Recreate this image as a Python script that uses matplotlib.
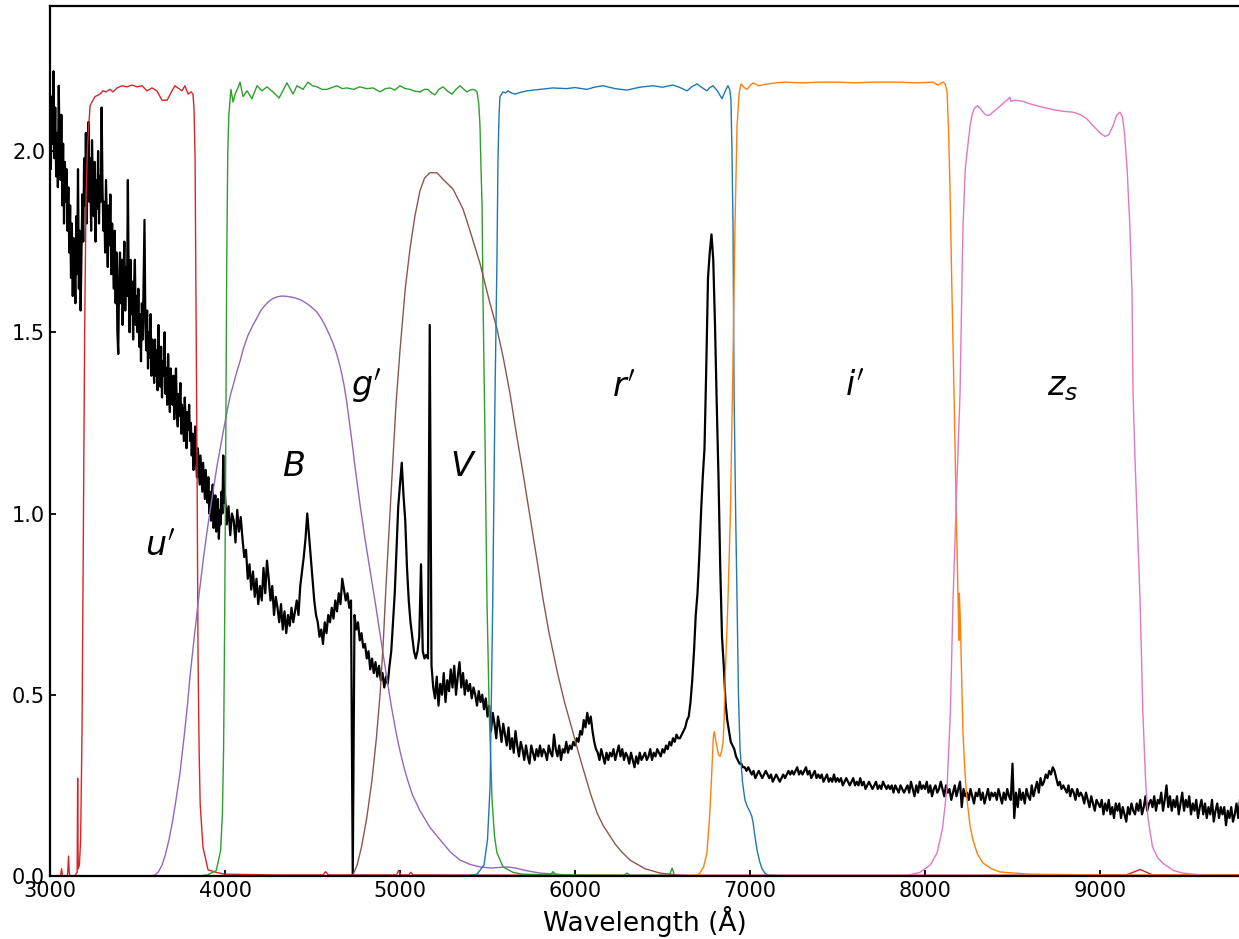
import numpy as np
import matplotlib
matplotlib.use("Agg")
import matplotlib.pyplot as plt

# ---- spectrum ----
# blue part sampled every 5 A, the rest every 10 A
spec_wl_blue = np.arange(3000, 4000, 5)
spec_fl_blue = [
    2.08, 1.95, 2.15, 2.02, 2.22, 1.98, 2.12, 1.93, 2.05, 1.90, 2.18, 2.00, 1.92, 2.10, 1.85, 2.02, 1.80, 1.97, 1.86, 1.95,
    1.78, 1.90, 1.72, 1.85, 1.65, 1.80, 1.60, 1.76, 1.70, 1.58, 1.82, 1.66, 1.95, 1.62, 1.78, 1.56, 1.72, 1.88, 1.75, 1.98,
    1.85, 2.05, 1.80, 1.96, 2.08, 1.86, 1.98, 1.78, 2.03, 1.90, 1.82, 1.97, 1.75, 1.92, 1.84, 2.00, 1.80, 1.93, 1.86, 2.12,
    1.90, 1.78, 1.86, 1.72, 1.92, 1.80, 1.68, 1.85, 1.74, 1.88, 1.66, 1.80, 1.70, 1.62, 1.78, 1.58, 1.72, 1.50, 1.44, 1.65,
    1.72, 1.58, 1.70, 1.52, 1.66, 1.75, 1.56, 1.68, 1.60, 1.92, 1.62, 1.50, 1.70, 1.55, 1.64, 1.48, 1.62, 1.70, 1.52, 1.60,
    1.50, 1.62, 1.46, 1.55, 1.42, 1.58, 1.48, 1.65, 1.81, 1.52, 1.45, 1.56, 1.40, 1.50, 1.43, 1.55, 1.38, 1.48, 1.44, 1.36,
    1.48, 1.38, 1.45, 1.34, 1.52, 1.40, 1.35, 1.46, 1.32, 1.42, 1.38, 1.50, 1.33, 1.40, 1.30, 1.44, 1.35, 1.28, 1.40, 1.34,
    1.30, 1.38, 1.26, 1.35, 1.40, 1.28, 1.24, 1.33, 1.27, 1.36, 1.22, 1.30, 1.25, 1.20, 1.32, 1.26, 1.18, 1.28, 1.23, 1.30,
    1.20, 1.25, 1.16, 1.22, 1.12, 1.19, 1.24, 1.14, 1.10, 1.18, 1.13, 1.08, 1.16, 1.11, 1.06, 1.14, 1.09, 1.04, 1.12, 1.07,
    1.03, 1.10, 1.00, 1.06, 0.98, 1.04, 1.08, 0.96, 1.02, 1.05, 0.95, 1.00, 1.04, 0.93, 1.01, 0.97, 1.06, 1.00, 1.16, 1.03,
]

spec_wl_red = np.arange(4000, 9810, 10)
spec_fl_mid = [
    1.05, 0.97, 1.02, 0.94, 1.00, 0.98, 0.92, 1.01, 0.95, 0.99,
    0.93, 0.88, 0.90, 0.82, 0.86, 0.79, 0.84, 0.77, 0.82, 0.75,
    0.80, 0.76, 0.85, 0.78, 0.87, 0.82, 0.76, 0.80, 0.72, 0.77,
    0.74, 0.70, 0.75, 0.68, 0.73, 0.67, 0.72, 0.69, 0.74, 0.70,
    0.73, 0.76, 0.72, 0.80, 0.84, 0.88, 0.93, 1.00, 0.94, 0.88,
    0.82, 0.76, 0.72, 0.70, 0.66, 0.68, 0.64, 0.70, 0.67, 0.72,
    0.70, 0.74, 0.71, 0.76, 0.73, 0.78, 0.75, 0.82, 0.79, 0.76,
    0.78, 0.74, 0.76, 0.00, 0.72, 0.68, 0.70, 0.65, 0.67, 0.63,
    0.64, 0.60, 0.62, 0.57, 0.60, 0.56, 0.59, 0.55, 0.58, 0.54,
    0.56, 0.52, 0.55, 0.53, 0.58, 0.62, 0.70, 0.78, 0.90, 1.02,
    1.08, 1.14, 1.05, 0.98, 0.85, 0.76, 0.70, 0.66, 0.62, 0.60,
    0.62, 0.66, 0.86, 0.62, 0.60, 0.61, 0.60, 1.52, 0.58, 0.52,
    0.49, 0.55, 0.47, 0.53, 0.50, 0.56, 0.48, 0.54, 0.51, 0.57,
    0.52, 0.58, 0.50, 0.55, 0.59, 0.52, 0.56, 0.50, 0.54, 0.51,
    0.53, 0.49, 0.52, 0.50, 0.47, 0.51, 0.48, 0.50, 0.46, 0.49,
    0.44, 0.47, 0.40, 0.45, 0.42, 0.38, 0.44, 0.41, 0.37, 0.42,
    0.39, 0.36, 0.41, 0.35, 0.38, 0.34, 0.40, 0.36, 0.33, 0.37,
    0.35, 0.32, 0.36, 0.33, 0.31, 0.36, 0.34, 0.32, 0.35, 0.33,
    0.36, 0.33, 0.35, 0.34, 0.32, 0.36, 0.34, 0.33, 0.39, 0.35,
    0.33, 0.36, 0.32, 0.35, 0.34, 0.37, 0.34, 0.36, 0.35, 0.37,
    0.36, 0.38, 0.37, 0.40, 0.39, 0.43, 0.41, 0.45, 0.42, 0.44,
    0.40, 0.37, 0.35, 0.34, 0.32, 0.35, 0.33, 0.31, 0.34, 0.32,
    0.34, 0.33, 0.35, 0.32, 0.34, 0.36, 0.33, 0.35, 0.32, 0.34,
    0.33, 0.31, 0.34, 0.32, 0.30, 0.33, 0.31, 0.34, 0.32, 0.33,
    0.34, 0.32, 0.33, 0.35, 0.32, 0.34, 0.33, 0.35, 0.34, 0.33,
    0.35, 0.34, 0.36, 0.35, 0.37, 0.36, 0.38, 0.37, 0.39, 0.38,
    0.38, 0.39, 0.40, 0.41, 0.43, 0.44, 0.48, 0.54, 0.62, 0.72,
]
# H-alpha line region 6700-6990
spec_fl_line = [
    0.78, 0.88, 1.00, 1.10, 1.18, 1.40, 1.65, 1.72, 1.77, 1.70,
    1.52, 1.30, 1.10, 0.85, 0.66, 0.58, 0.48, 0.43, 0.40, 0.37,
    0.36, 0.35, 0.33, 0.32, 0.31, 0.31, 0.30, 0.30, 0.29, 0.30,
]
spec_fl_tail = [
    0.29, 0.28, 0.29, 0.27, 0.28, 0.29, 0.28, 0.27, 0.28, 0.29,
    0.28, 0.27, 0.28, 0.26, 0.27, 0.28, 0.27, 0.26, 0.27, 0.28,
    0.27, 0.28, 0.29, 0.28, 0.29, 0.28, 0.29, 0.30, 0.28, 0.29,
    0.28, 0.29, 0.30, 0.28, 0.29, 0.27, 0.28, 0.29, 0.27, 0.28,
    0.27, 0.28, 0.26, 0.27, 0.28, 0.26, 0.27, 0.26, 0.28, 0.26,
    0.27, 0.26, 0.27, 0.25, 0.26, 0.27, 0.26, 0.25, 0.26, 0.27,
    0.25, 0.26, 0.25, 0.27, 0.25, 0.26, 0.24, 0.25, 0.26, 0.25,
    0.24, 0.25, 0.26, 0.24, 0.25, 0.24, 0.26, 0.25, 0.24, 0.25,
    0.24, 0.25, 0.23, 0.25, 0.24, 0.23, 0.25, 0.24, 0.23, 0.24,
    0.25, 0.23, 0.26, 0.24, 0.22, 0.25, 0.23, 0.26, 0.24, 0.25,
    0.24, 0.26, 0.23, 0.25, 0.22, 0.24, 0.25, 0.23, 0.24, 0.26,
    0.24, 0.22, 0.25, 0.23, 0.24, 0.21, 0.23, 0.25, 0.22, 0.24,
    0.26, 0.19, 0.24, 0.22, 0.23, 0.21, 0.24, 0.22, 0.20, 0.23,
    0.22, 0.24, 0.21, 0.23, 0.20, 0.22, 0.24, 0.21, 0.23, 0.22,
    0.23, 0.21, 0.24, 0.22, 0.20, 0.23, 0.21, 0.24, 0.22, 0.21,
    0.31, 0.16, 0.23, 0.19, 0.24, 0.21, 0.23, 0.20, 0.24, 0.22,
    0.21, 0.25, 0.22, 0.24, 0.26, 0.23, 0.27, 0.25, 0.26, 0.28,
    0.27, 0.29, 0.28, 0.30, 0.29, 0.27, 0.25, 0.26, 0.24, 0.25,
    0.24, 0.23, 0.25, 0.22, 0.24, 0.23, 0.21, 0.24, 0.22, 0.23,
    0.22, 0.20, 0.23, 0.21, 0.19, 0.22, 0.20, 0.18, 0.21, 0.20,
    0.19, 0.21, 0.17, 0.20, 0.18, 0.21, 0.17, 0.19, 0.16, 0.20,
    0.18, 0.20, 0.16, 0.19, 0.17, 0.15, 0.19, 0.17, 0.20, 0.18,
    0.17, 0.20, 0.18, 0.21, 0.17, 0.19, 0.22, 0.18, 0.20, 0.21,
    0.19, 0.22, 0.18, 0.21, 0.20, 0.23, 0.18, 0.21, 0.25, 0.19,
    0.22, 0.18, 0.21, 0.19, 0.22, 0.17, 0.20, 0.23, 0.18, 0.21,
    0.19, 0.22, 0.17, 0.20, 0.18, 0.21, 0.16, 0.19, 0.21, 0.17,
    0.20, 0.16, 0.19, 0.17, 0.21, 0.15, 0.18, 0.20, 0.16, 0.19,
    0.17, 0.19, 0.14, 0.18, 0.16, 0.19, 0.15, 0.17, 0.20, 0.16,
    0.21,
]

# ---- filter curves (wavelength, scaled throughput) ----
u_filt = [(3000, 0.0), (3060, 0.0), (3066, 0.02), (3072, 0.0), (3100, 0.0), (3106, 0.055),
          (3110, 0.01), (3114, 0.0), (3140, 0.0), (3155, 0.01), (3158, 0.27), (3161, 0.02),
          (3168, 0.03), (3175, 0.1), (3183, 0.4), (3190, 0.9), (3198, 1.5), (3206, 1.87),
          (3215, 2.02), (3229, 2.125), (3257, 2.15), (3286, 2.157), (3303, 2.166), (3320, 2.163),
          (3343, 2.17), (3360, 2.163), (3383, 2.174), (3411, 2.18), (3440, 2.177), (3469, 2.182),
          (3497, 2.177), (3526, 2.18), (3554, 2.166), (3583, 2.174), (3611, 2.166), (3640, 2.14),
          (3669, 2.14), (3697, 2.166), (3714, 2.18), (3731, 2.174), (3754, 2.166), (3771, 2.18),
          (3789, 2.157), (3806, 2.163), (3817, 2.157), (3823, 2.116), (3829, 1.98), (3840, 1.15),
          (3846, 0.6), (3852, 0.35), (3858, 0.2), (3874, 0.08), (3903, 0.017), (3950, 0.01),
          (4000, 0.005), (4300, 0.003), (4560, 0.003), (4575, 0.012), (4590, 0.003), (4980, 0.003),
          (4992, 0.015), (5004, 0.003), (5050, 0.003), (5062, 0.01), (5074, 0.003), (6000, 0.002),
          (8200, 0.002), (9150, 0.003), (9230, 0.018), (9300, 0.003), (9800, 0.003)]

g_filt = [(3850, 0.0), (3900, 0.003), (3950, 0.015), (3975, 0.07), (3985, 0.17), (3992, 0.35),
          (3998, 0.7), (4004, 1.15), (4010, 1.7), (4016, 2.0), (4022, 2.1), (4034, 2.17),
          (4046, 2.135), (4060, 2.16), (4075, 2.175), (4086, 2.19), (4103, 2.15), (4126, 2.166),
          (4154, 2.144), (4183, 2.18), (4211, 2.166), (4240, 2.177), (4274, 2.163), (4309, 2.146),
          (4354, 2.188), (4389, 2.157), (4411, 2.18), (4446, 2.17), (4474, 2.19), (4500, 2.18),
          (4526, 2.177), (4555, 2.17), (4583, 2.17), (4610, 2.175), (4640, 2.18), (4670, 2.172),
          (4697, 2.174), (4735, 2.17), (4771, 2.177), (4810, 2.172), (4846, 2.174), (4886, 2.163),
          (4915, 2.172), (4943, 2.174), (4970, 2.168), (5000, 2.18), (5030, 2.172), (5057, 2.17),
          (5085, 2.165), (5114, 2.163), (5140, 2.17), (5160, 2.17), (5180, 2.16), (5200, 2.155),
          (5222, 2.17), (5246, 2.177), (5272, 2.165), (5297, 2.157), (5320, 2.17), (5343, 2.18),
          (5365, 2.17), (5383, 2.163), (5400, 2.168), (5417, 2.17), (5430, 2.168), (5440, 2.163),
          (5450, 2.13), (5457, 2.07), (5463, 1.95), (5469, 1.85), (5474, 1.61), (5480, 1.4),
          (5486, 1.2), (5492, 0.95), (5497, 0.76), (5510, 0.45), (5526, 0.21), (5540, 0.11),
          (5554, 0.064), (5589, 0.025), (5646, 0.01), (5700, 0.005), (5860, 0.003), (5874, 0.012),
          (5890, 0.003), (6280, 0.002), (6297, 0.008), (6315, 0.002), (6540, 0.002), (6555, 0.022),
          (6568, 0.002), (6700, 0.0)]

r_filt = [(5380, 0.0), (5440, 0.005), (5480, 0.03), (5500, 0.1), (5515, 0.25), (5530, 0.76),
          (5543, 1.33), (5554, 1.7), (5560, 1.98), (5566, 2.1), (5571, 2.15), (5589, 2.163),
          (5603, 2.16), (5617, 2.166), (5637, 2.16), (5657, 2.157), (5690, 2.162), (5726, 2.166),
          (5800, 2.17), (5874, 2.174), (5950, 2.172), (6000, 2.175), (6069, 2.17), (6110, 2.176),
          (6160, 2.18), (6230, 2.172), (6297, 2.168), (6370, 2.176), (6446, 2.18), (6500, 2.176),
          (6560, 2.182), (6600, 2.175), (6640, 2.166), (6670, 2.178), (6697, 2.185), (6725, 2.175),
          (6754, 2.166), (6770, 2.175), (6789, 2.18), (6815, 2.165), (6840, 2.144), (6858, 2.165),
          (6874, 2.18), (6884, 2.17), (6891, 2.144), (6897, 2.0), (6903, 1.79), (6909, 1.33),
          (6918, 1.0), (6926, 0.76), (6934, 0.5), (6943, 0.35), (6957, 0.26), (6971, 0.21),
          (6986, 0.19), (7000, 0.177), (7010, 0.165), (7017, 0.15), (7028, 0.11), (7040, 0.072),
          (7055, 0.04), (7069, 0.02), (7085, 0.008), (7103, 0.002), (7200, 0.0)]

i_filt = [(6650, 0.0), (6700, 0.003), (6714, 0.008), (6735, 0.025), (6754, 0.064), (6770, 0.17),
          (6783, 0.30), (6790, 0.38), (6796, 0.398), (6804, 0.375), (6811, 0.357), (6820, 0.335),
          (6829, 0.33), (6838, 0.345), (6846, 0.367), (6852, 0.43), (6857, 0.53), (6866, 0.65),
          (6874, 0.76), (6888, 1.0), (6903, 1.425), (6914, 1.79), (6926, 2.07), (6938, 2.16),
          (6949, 2.185), (6966, 2.175), (6983, 2.17), (7000, 2.18), (7017, 2.188), (7050, 2.18),
          (7100, 2.185), (7150, 2.188), (7200, 2.19), (7300, 2.188), (7400, 2.19), (7500, 2.19),
          (7600, 2.188), (7700, 2.19), (7800, 2.19), (7857, 2.19), (7950, 2.188), (8046, 2.19),
          (8074, 2.182), (8103, 2.19), (8115, 2.185), (8126, 2.163), (8135, 2.05), (8143, 1.89),
          (8154, 1.61), (8166, 1.33), (8178, 1.02), (8189, 0.76), (8194, 0.65), (8196, 0.78),
          (8201, 0.72), (8206, 0.62), (8217, 0.395), (8228, 0.29), (8240, 0.21), (8257, 0.14),
          (8274, 0.10), (8300, 0.06), (8331, 0.036), (8380, 0.02), (8429, 0.011), (8600, 0.005),
          (9000, 0.003), (9800, 0.003)]

z_filt = [(7850, 0.0), (7900, 0.002), (7971, 0.01), (8030, 0.03), (8069, 0.064), (8100, 0.13),
          (8126, 0.245), (8145, 0.45), (8160, 0.76), (8180, 1.05), (8200, 1.33), (8210, 1.6),
          (8217, 1.79), (8230, 1.95), (8246, 2.02), (8258, 2.07), (8269, 2.10), (8280, 2.115),
          (8291, 2.122), (8300, 2.125), (8320, 2.115), (8345, 2.10), (8366, 2.098), (8390, 2.108),
          (8420, 2.12), (8450, 2.133), (8475, 2.143), (8486, 2.148), (8490, 2.137), (8514, 2.14),
          (8560, 2.137), (8600, 2.13), (8660, 2.122), (8714, 2.116), (8780, 2.11), (8846, 2.107),
          (8890, 2.1), (8926, 2.088), (8960, 2.07), (9000, 2.05), (9029, 2.04), (9050, 2.045),
          (9075, 2.07), (9095, 2.098), (9114, 2.107), (9128, 2.095), (9140, 2.05), (9155, 1.95),
          (9165, 1.85), (9171, 1.79), (9183, 1.61), (9189, 1.33), (9200, 1.15), (9215, 0.95),
          (9229, 0.76), (9245, 0.45), (9260, 0.27), (9274, 0.16), (9300, 0.08), (9330, 0.05),
          (9360, 0.035), (9420, 0.015), (9474, 0.008), (9600, 0.002), (9800, 0.0)]

B_filt = [(3560, 0.0), (3600, 0.002), (3620, 0.012), (3640, 0.03), (3660, 0.06), (3680, 0.1),
          (3700, 0.15), (3720, 0.21), (3743, 0.285), (3770, 0.40), (3785, 0.47), (3800, 0.55),
          (3820, 0.64), (3850, 0.77), (3875, 0.87), (3900, 0.96), (3925, 1.04), (3954, 1.13),
          (3980, 1.2), (4011, 1.28), (4030, 1.325), (4050, 1.36), (4070, 1.395), (4086, 1.42),
          (4105, 1.455), (4130, 1.49), (4160, 1.52), (4183, 1.54), (4205, 1.56), (4230, 1.575),
          (4250, 1.585), (4274, 1.593), (4300, 1.598), (4326, 1.60), (4355, 1.599), (4380, 1.597),
          (4405, 1.594), (4429, 1.59), (4455, 1.583), (4480, 1.575), (4505, 1.565), (4526, 1.555),
          (4550, 1.538), (4570, 1.52), (4595, 1.495), (4617, 1.47), (4635, 1.445), (4650, 1.42),
          (4665, 1.39), (4680, 1.355), (4695, 1.31), (4710, 1.255), (4725, 1.2), (4740, 1.14),
          (4755, 1.085), (4770, 1.03), (4785, 0.98), (4800, 0.93), (4830, 0.84), (4860, 0.75),
          (4890, 0.655), (4920, 0.56), (4950, 0.47), (4980, 0.39), (5000, 0.345), (5020, 0.305),
          (5040, 0.27), (5070, 0.225), (5114, 0.18), (5170, 0.135), (5229, 0.10), (5290, 0.065),
          (5343, 0.044), (5400, 0.032), (5457, 0.025), (5520, 0.022), (5580, 0.024), (5611, 0.025),
          (5660, 0.022), (5720, 0.015), (5800, 0.008), (5900, 0.005), (6000, 0.0)]

V_filt = [(4700, 0.0), (4731, 0.003), (4755, 0.03), (4780, 0.08), (4810, 0.16), (4840, 0.265),
          (4865, 0.38), (4886, 0.5), (4905, 0.65), (4920, 0.8), (4937, 0.95), (4954, 1.1),
          (4977, 1.3), (5000, 1.45), (5030, 1.62), (5057, 1.73), (5085, 1.82), (5114, 1.89),
          (5140, 1.925), (5171, 1.94), (5211, 1.94), (5250, 1.92), (5303, 1.895), (5360, 1.84),
          (5400, 1.78), (5457, 1.69), (5514, 1.58), (5554, 1.51), (5590, 1.43), (5629, 1.33),
          (5665, 1.22), (5700, 1.12), (5750, 0.97), (5785, 0.865), (5817, 0.765), (5850, 0.675),
          (5900, 0.56), (5940, 0.48), (5989, 0.395), (6020, 0.34), (6050, 0.29), (6090, 0.225),
          (6126, 0.174), (6160, 0.14), (6200, 0.11), (6230, 0.088), (6260, 0.07), (6314, 0.044),
          (6400, 0.02), (6486, 0.008), (6600, 0.002), (6700, 0.0)]

filters = [("C3", u_filt), ("C4", B_filt), ("C2", g_filt), ("C5", V_filt),
           ("C0", r_filt), ("C1", i_filt), ("C6", z_filt)]

band_names = [r"$u'$", r"$B$", r"$g'$", r"$V$", r"$r'$", r"$i'$", r"$z_s$"]
band_x = [3630, 4390, 4810, 5365, 6280, 7600, 8785]
band_y = [0.91, 1.13, 1.35, 1.13, 1.35, 1.35, 1.35]

# ---- plot ----
fig = plt.figure(figsize=(12.39, 9.39), dpi=100)
ax = fig.add_axes([50/1239, 63/939, 1190/1239, 870/939])

spec_fl_red = spec_fl_mid + spec_fl_line + spec_fl_tail
ax.plot(spec_wl_blue, spec_fl_blue, color="k", lw=1.6, zorder=1)
ax.plot(np.concatenate([[3995], spec_wl_red]), [spec_fl_blue[-1]] + spec_fl_red,
        color="k", lw=1.6, zorder=1)

for col, pts in filters:
    wl, tr = zip(*pts)
    ax.plot(wl, tr, color=col, lw=1.0, zorder=2)

for name, bx, by in zip(band_names, band_x, band_y):
    ax.text(bx, by, name, fontsize=24, ha="center", va="center")

ax.set_xlim(3000, 9800)
ax.set_ylim(0, 2.4)
ax.set_xticks([3000, 4000, 5000, 6000, 7000, 8000, 9000])
ax.set_yticks([0.0, 0.5, 1.0, 1.5, 2.0])
ax.set_yticklabels(["0.0", "0.5", "1.0", "1.5", "2.0"])
ax.tick_params(direction="in", length=4, width=1.3, labelsize=15)
ax.set_xlabel("Wavelength (Å)", fontsize=19, labelpad=4)
for sp in ax.spines.values():
    sp.set_linewidth(1.6)
ax.spines["right"].set_visible(False)

fig.savefig("out.png", dpi=100)
